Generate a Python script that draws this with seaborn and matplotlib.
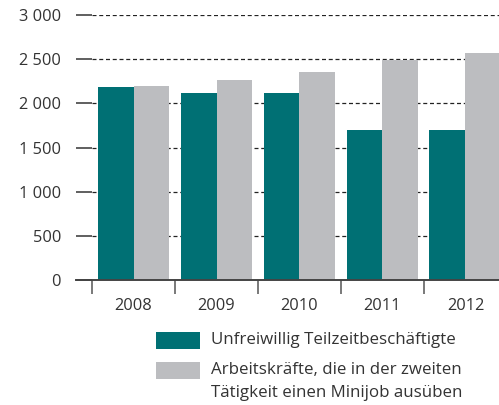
import matplotlib
matplotlib.use("Agg")
import matplotlib.pyplot as plt
import seaborn as sns
import pandas as pd
from matplotlib.ticker import FixedLocator, NullFormatter

years = ["2008", "2009", "2010", "2011", "2012"]
series_names = ["Unfreiwillig Teilzeitbeschäftigte",
                "Arbeitskräfte, die in der zweiten\nTätigkeit einen Minijob ausüben"]
unfreiwillig = [2185, 2117, 2117, 1698, 1698]
minijob = [2196, 2264, 2355, 2494, 2570]
y_ticks = [0, 500, 1000, 1500, 2000, 2500, 3000]
y_tick_labels = ["0", "500", "1 000", "1 500", "2 000", "2 500", "3 000"]
colors = ["#007074", "#bcbdc0"]

df = pd.DataFrame({
    "Jahr": years * 2,
    "Wert": unfreiwillig + minijob,
    "Reihe": [series_names[0]] * len(years) + [series_names[1]] * len(years),
})

sns.set_theme(style="white")
plt.rcParams["font.family"] = ["Open Sans", "DejaVu Sans"]
text_color = "#333333"

fig = plt.figure(figsize=(4.99, 4.05), dpi=100)
ax = fig.add_axes([76 / 499, 1 - 280 / 405, (499 - 76) / 499, 265 / 405])

sns.barplot(data=df, x="Jahr", y="Wert", hue="Reihe", palette=colors,
            width=0.867, saturation=1, ax=ax, legend=True, linewidth=0)

ax.set_xlim(-0.693, 4.404)
ax.set_ylim(0, 3000)

for s in ["left", "right", "top"]:
    ax.spines[s].set_visible(False)
ax.spines["bottom"].set_color("#444444")
ax.spines["bottom"].set_linewidth(1.4)

# dashed gridlines
ax.hlines(y_ticks[1:], -0.5, 4.404, colors="#222222", linestyles=(0, (3.2, 2.2)),
          linewidth=0.9, zorder=0)
ax.set_axisbelow(True)

ax.set_yticks(y_ticks)
ax.set_yticklabels(y_tick_labels)
ax.tick_params(axis="y", direction="in", length=11.5, width=1.2, color="#444444",
               pad=10.8, labelsize=11.8, labelcolor=text_color, left=True)

ax.set_xticks(range(len(years)))
ax.set_xticklabels(years)
ax.tick_params(axis="x", which="major", length=0, pad=13, labelsize=11.8,
               labelcolor=text_color, bottom=True)
ax.xaxis.set_minor_locator(FixedLocator([-0.5, 0.5, 1.5, 2.5, 3.5]))
ax.xaxis.set_minor_formatter(NullFormatter())
ax.tick_params(axis="x", which="minor", direction="out", length=10, width=1.1,
               color="#555555", bottom=True)

ax.set_xlabel("")
ax.set_ylabel("")

handles, labels = ax.get_legend_handles_labels()
ax.legend_.remove()
fs = 12.2
leg = fig.legend(handles, labels, loc="upper left",
                 bbox_to_anchor=(156 / 499, 1 - 332 / 405),
                 frameon=False, fontsize=fs, borderpad=0, borderaxespad=0,
                 handlelength=31.7 / fs, handleheight=14.4 / fs,
                 handletextpad=7.9 / fs,
                 labelspacing=0.75, labelcolor=text_color)
for t in leg.get_texts():
    t.set_linespacing(1.6)
# align each handle with the top line of its label
for col in leg._legend_handle_box.get_children():
    for item in col.get_children():
        item.align = "top"

fig.savefig("out.png", dpi=100)
